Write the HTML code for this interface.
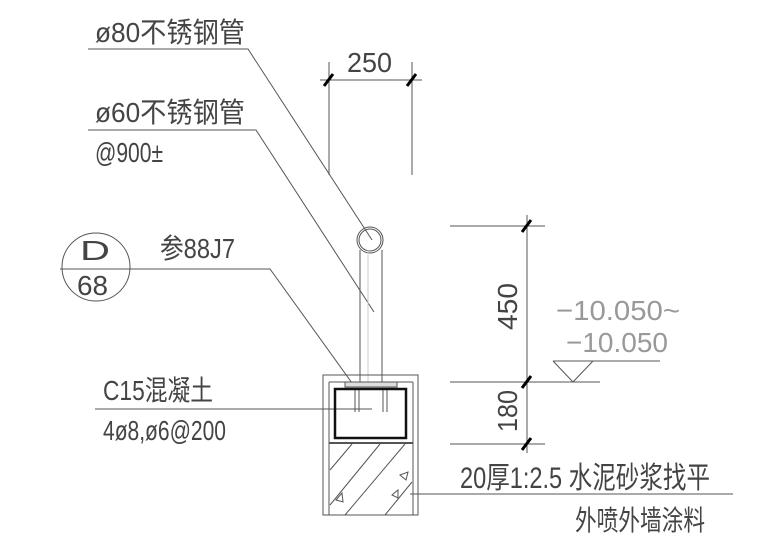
<!DOCTYPE html>
<html><head><meta charset="utf-8"><style>
html,body{margin:0;padding:0;background:#fff;}
svg{display:block;}
text{font-family:"Liberation Sans","Noto Sans CJK SC",sans-serif;fill:#444;}
</style></head><body>
<svg width="780" height="551" viewBox="0 0 780 551" xmlns="http://www.w3.org/2000/svg">
<g stroke="#555" stroke-width="1" fill="none">
<polyline points="88,49 248,49 372,240"/>
<polyline points="88,130 256,130 374,312"/>
<polyline points="60,269 270,269 352,383"/>
<line x1="95" y1="409" x2="372" y2="409"/>
<line x1="320" y1="80" x2="422" y2="80"/>
<line x1="329" y1="62" x2="329" y2="175"/>
<line x1="412" y1="62" x2="412" y2="175"/>
<line x1="527" y1="215" x2="527" y2="453"/>
<line x1="450" y1="226" x2="545" y2="226"/>
<line x1="450" y1="382" x2="600" y2="382"/>
<line x1="450" y1="444" x2="545" y2="444"/>
<polyline points="553,361 573,382 593,361"/>
<line x1="553" y1="361" x2="660" y2="361"/>
<line x1="410" y1="494" x2="733" y2="494"/>
<circle cx="96" cy="267" r="34"/>
<circle cx="370" cy="240" r="13"/>
<circle cx="370" cy="240" r="11"/>
<line x1="360" y1="250" x2="360" y2="382"/>
<line x1="382" y1="250" x2="382" y2="382"/>
<line x1="368" y1="250" x2="368" y2="382" stroke="#ccc"/>
<rect x="323" y="375" width="95" height="140"/>
<line x1="329" y1="382" x2="329" y2="515"/>
<line x1="413" y1="382" x2="413" y2="515"/>
<line x1="329" y1="382" x2="413" y2="382"/>
<line x1="329" y1="443" x2="413" y2="443" stroke-width="2"/>
<rect x="345" y="382" width="52" height="5" fill="#ddd"/>
<line x1="355" y1="388" x2="355" y2="412"/><line x1="359" y1="388" x2="359" y2="412"/>
<line x1="383" y1="388" x2="383" y2="412"/><line x1="387" y1="388" x2="387" y2="412"/>
<line x1="330" y1="470" x2="352" y2="444"/>
<line x1="330" y1="505" x2="380" y2="444"/>
<line x1="345" y1="515" x2="405" y2="444"/>
<line x1="385" y1="515" x2="412" y2="482"/>
<polygon points="336,500 342,493 343,502"/>
<polygon points="400,475 408,472 406,480"/>
<polygon points="392,495 398,490 398,498"/>
</g>
<rect x="335" y="389" width="71" height="49" fill="none" stroke="#111" stroke-width="2.5"/>
<g stroke="#000" stroke-width="3">
<line x1="324" y1="86" x2="333" y2="74"/>
<line x1="407" y1="86" x2="416" y2="74"/>
<line x1="522" y1="232" x2="531" y2="220"/>
<line x1="522" y1="388" x2="531" y2="376"/>
<line x1="522" y1="450" x2="531" y2="438"/>
</g>
<g font-size="28">
<text x="95" y="42" textLength="150" lengthAdjust="spacingAndGlyphs">ø80不锈钢管</text>
<text x="95" y="122" textLength="150" lengthAdjust="spacingAndGlyphs">ø60不锈钢管</text>
<text x="95" y="162" textLength="68" lengthAdjust="spacingAndGlyphs">@900±</text>
<text x="160" y="258" textLength="75" lengthAdjust="spacingAndGlyphs">参88J7</text>
<text x="103" y="400" textLength="110" lengthAdjust="spacingAndGlyphs">C15混凝土</text>
<text x="103" y="440" textLength="123" lengthAdjust="spacingAndGlyphs">4ø8,ø6@200</text>
<text x="347" y="72" textLength="45" lengthAdjust="spacingAndGlyphs">250</text>
<text x="460" y="488" textLength="250" lengthAdjust="spacingAndGlyphs" font-size="30">20厚1:2.5 水泥砂浆找平</text>
<text x="575" y="530" textLength="130" lengthAdjust="spacingAndGlyphs">外喷外墙涂料</text>
<text x="80" y="260" textLength="30" lengthAdjust="spacingAndGlyphs" font-family="Liberation Serif,serif">D</text>
<text x="77" y="295" textLength="31" lengthAdjust="spacingAndGlyphs">68</text>
<text transform="translate(517,330) rotate(-90)" x="0" y="0" textLength="47" lengthAdjust="spacingAndGlyphs">450</text>
<text transform="translate(517,432) rotate(-90)" x="0" y="0" textLength="42" lengthAdjust="spacingAndGlyphs">180</text>
<text x="556" y="320" textLength="124" lengthAdjust="spacingAndGlyphs" style="fill:#999">−10.050~</text>
<text x="566" y="352" textLength="102" lengthAdjust="spacingAndGlyphs" style="fill:#999">−10.050</text>
</g>
</svg>
</body></html>
